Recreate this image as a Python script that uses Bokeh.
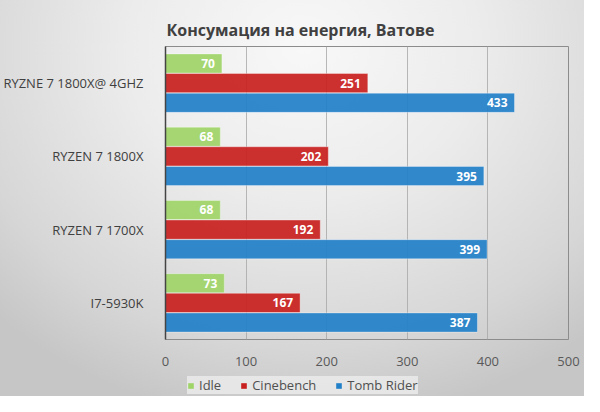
from bokeh.plotting import figure
from bokeh.layouts import column
from bokeh.models import FactorRange, Legend, LegendItem, InlineStyleSheet, ColumnDataSource
from bokeh.transform import dodge
from bokeh.core.properties import value
from bokeh.embed import file_html
from bokeh.resources import INLINE

title_text = "Консумация на енергия, Ватове"
categories = ["I7-5930K", "RYZEN 7 1700X", "RYZEN 7 1800X", "RYZNE 7 1800X@ 4GHZ"]
idle = [73, 68, 68, 70]
cinebench = [167, 192, 202, 251]
tomb_rider = [387, 399, 395, 433]
series_names = ["Idle", "Cinebench", "Tomb Rider"]
series_colors = ["#9fd468", "#c8201f", "#2280c8"]
x_ticks = [0, 100, 200, 300, 400, 500]

src = ColumnDataSource(dict(cat=categories, idle=idle, cinebench=cinebench, tomb=tomb_rider,
                            idle_s=[str(v) for v in idle],
                            cine_s=[str(v) for v in cinebench],
                            tomb_s=[str(v) for v in tomb_rider]))

css = InlineStyleSheet(css=""":host { background: radial-gradient(ellipse 75% 95% at 52% 12%, #f8f8f8 0%, #ececec 40%, #d6d6d6 80%, #c6c6c6 100%); }""")

p = figure(width=584, height=368, y_range=FactorRange(factors=categories, range_padding=0),
           x_range=(0, 500), output_backend="svg", toolbar_location=None,
           min_border_left=161, min_border_right=16, min_border_top=46, min_border_bottom=29)
p.border_fill_alpha = 0
p.background_fill_alpha = 0
p.outline_line_color = "#8c8c8c"
p.outline_line_width = 1

p.title.text = title_text
p.title.text_font = "Open Sans"
p.title.text_font_size = "16px"
p.title.text_font_style = "bold"
p.title.text_color = "#404040"
p.title.align = "left"
p.title.offset = 1
p.title.standoff = 12

cols = ["idle", "cinebench", "tomb"]
labs = ["idle_s", "cine_s", "tomb_s"]
offsets = [0.268, 0.0, -0.268]
for col, lab, off, color in zip(cols, labs, offsets, series_colors):
    p.hbar(y=dodge("cat", off, range=p.y_range), right=col, left=0, height=0.262, source=src,
           fill_color=color, fill_alpha=0.93, line_color="#ffffff", line_alpha=0.35, line_width=1)
    p.text(x=col, y=dodge("cat", off, range=p.y_range), text=lab, source=src,
           x_offset=-7, text_align="right", text_baseline="middle",
           text_color="white", text_font=value("Open Sans"), text_font_size="12px",
           text_font_style="bold")

p.xgrid.grid_line_color = "#a8a8a8"
p.xgrid.grid_line_alpha = 0.8
p.xgrid.level = "image"
p.ygrid.grid_line_color = None
p.xaxis.ticker = x_ticks
p.xaxis.axis_line_color = None
p.xaxis.major_tick_line_color = None
p.xaxis.minor_tick_line_color = None
p.xaxis.major_label_standoff = 11
p.xaxis.major_label_text_font = "Open Sans"
p.xaxis.major_label_text_font_size = "13px"
p.xaxis.major_label_text_color = "#595959"

p.yaxis.axis_line_color = "#444444"
p.yaxis.axis_line_width = 1.5
p.yaxis.major_tick_line_color = None
p.yaxis.minor_tick_line_color = None
p.yaxis.major_label_standoff = 16
p.yaxis.major_label_text_font = "Open Sans"
p.yaxis.major_label_text_font_size = "13px"
p.yaxis.major_label_text_color = "#404040"

# legend strip below the chart (its frame is aligned with the chart's frame)
lp = figure(width=584, height=28, x_range=(0, 1), y_range=(0, 1), output_backend="svg",
            toolbar_location=None, min_border=0)
lp.axis.visible = False
lp.grid.visible = False
lp.outline_line_color = None
lp.border_fill_alpha = 0
lp.background_fill_alpha = 0
swatch = ColumnDataSource(dict(y=[-5], right=[0]))  # off-range: only the legend swatch shows
items = []
for name, color in zip(series_names, series_colors):
    r = lp.hbar(y="y", right="right", left=0, height=0.5, source=swatch,
                fill_color=color, line_color=None)
    items.append(LegendItem(label=name, renderers=[r]))
legend = Legend(items=items, orientation="horizontal", location=(22, 2),
                glyph_width=7, glyph_height=7, label_standoff=5, spacing=19, padding=4,
                label_height=14,
                background_fill_color="#ececec", background_fill_alpha=0.8,
                border_line_color=None, label_text_font="Open Sans",
                label_text_font_size="13px", label_text_color="#505050")
lp.add_layout(legend, "center")

layout = column(p, lp, spacing=0, stylesheets=[css])
open("out.html", "w").write(file_html(layout, INLINE))
